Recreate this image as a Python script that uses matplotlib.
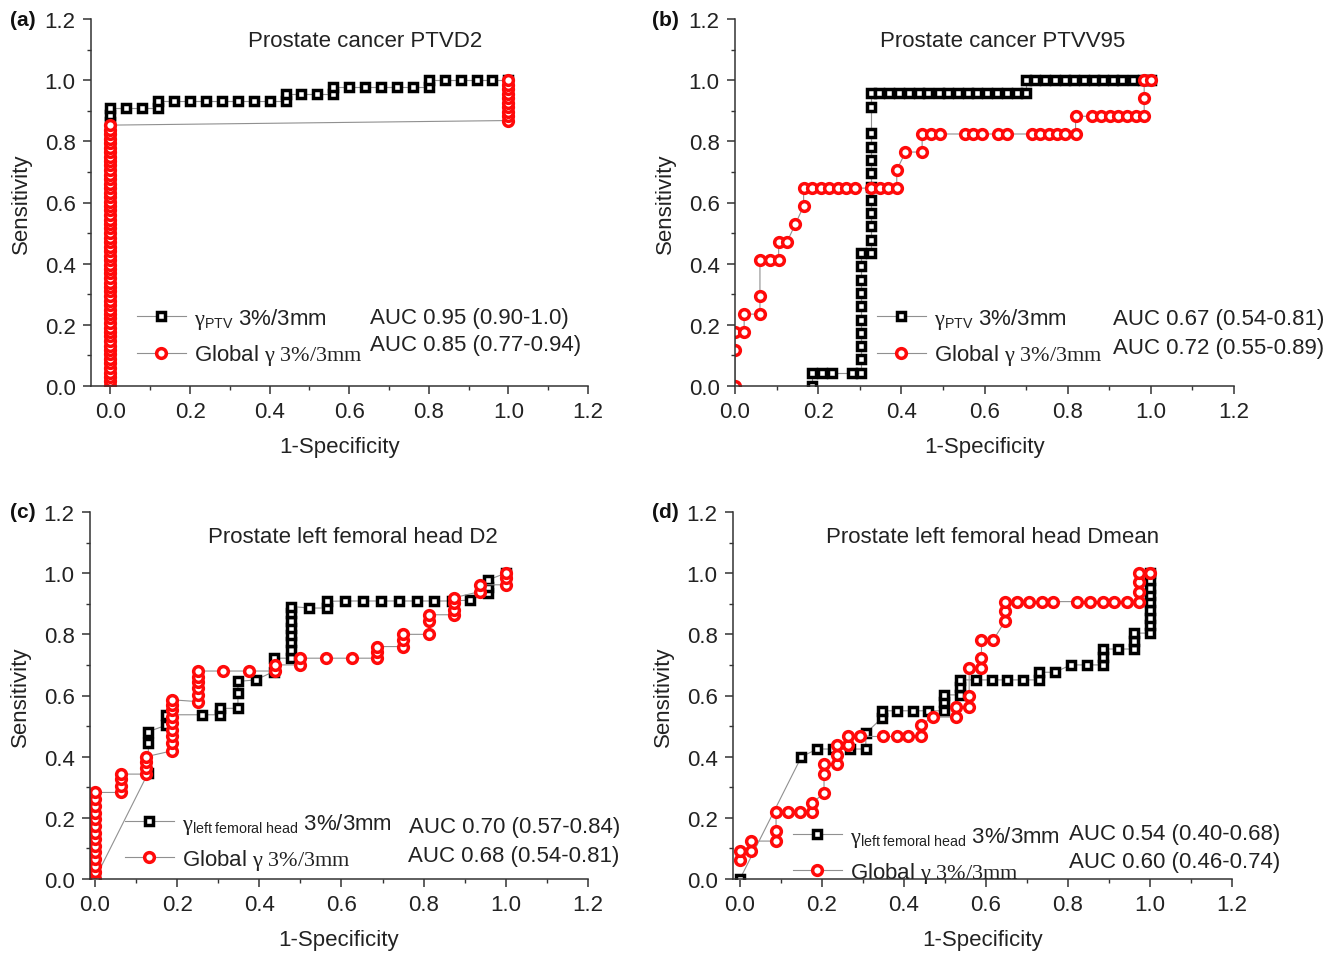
import matplotlib
matplotlib.use("Agg")
import matplotlib.pyplot as plt
from matplotlib.lines import Line2D
from matplotlib.ticker import MultipleLocator, FormatStrFormatter
try:
    import matplotlib._mathtext as _mt
    _mt.SHRINK_FACTOR = 0.64
except Exception:
    pass

plt.rcParams['font.family'] = ['Liberation Sans', 'DejaVu Sans']
plt.rcParams['mathtext.fontset'] = 'custom'
plt.rcParams['mathtext.rm'] = 'Liberation Serif'
plt.rcParams['mathtext.it'] = 'Liberation Serif:italic'
plt.rcParams['mathtext.bf'] = 'Liberation Serif:bold'
plt.rcParams['mathtext.sf'] = 'Liberation Sans'

# ---------------- data ----------------
# (a) Prostate cancer PTVD2
a_gptv_x = [0, 0, 0, 0, 0, 0, 0, 0, 0, 0, 0, 0, 0, 0, 0, 0, 0, 0, 0, 0, 0, 0,
            0.04, 0.08, 0.12, 0.12, 0.16, 0.20, 0.24, 0.28, 0.32, 0.36, 0.40, 0.44, 0.44,
            0.48, 0.52, 0.56, 0.56, 0.60, 0.64, 0.68, 0.72, 0.76, 0.80, 0.80,
            0.84, 0.88, 0.92, 0.96, 1.0]
a_gptv_y = [0.0, 0.045, 0.091, 0.136, 0.182, 0.227, 0.273, 0.318, 0.364, 0.409, 0.455, 0.5,
            0.545, 0.591, 0.636, 0.682, 0.727, 0.773, 0.818, 0.864, 0.886, 0.909,
            0.909, 0.909, 0.909, 0.932, 0.932, 0.932, 0.932, 0.932, 0.932, 0.932, 0.932, 0.932, 0.955,
            0.955, 0.955, 0.955, 0.977, 0.977, 0.977, 0.977, 0.977, 0.977, 0.977, 1.0,
            1.0, 1.0, 1.0, 1.0, 1.0]
a_glob_x = [0] * 59 + [1.0] * 10
a_glob_y = [0.0, 0.015, 0.029, 0.044, 0.059, 0.074, 0.088, 0.103, 0.118, 0.132, 0.147, 0.162,
            0.176, 0.191, 0.206, 0.221, 0.235, 0.25, 0.265, 0.279, 0.294, 0.309, 0.324, 0.338,
            0.353, 0.368, 0.382, 0.397, 0.412, 0.426, 0.441, 0.456, 0.471, 0.485, 0.5, 0.515,
            0.529, 0.544, 0.559, 0.574, 0.588, 0.603, 0.618, 0.632, 0.647, 0.662, 0.676, 0.691,
            0.706, 0.721, 0.735, 0.75, 0.765, 0.779, 0.794, 0.809, 0.824, 0.838, 0.853,
            0.868, 0.882, 0.897, 0.912, 0.926, 0.941, 0.956, 0.971, 0.985, 1.0]

# (b) Prostate cancer PTVV95
b_gptv_x = [0.185, 0.185, 0.209, 0.234, 0.282,
            0.302, 0.302, 0.302, 0.302, 0.302, 0.302, 0.302, 0.302, 0.302, 0.302,
            0.328, 0.328, 0.328, 0.328, 0.328, 0.328, 0.328, 0.328, 0.328, 0.328, 0.328, 0.328,
            0.347, 0.371, 0.395, 0.419, 0.442, 0.465, 0.49, 0.512, 0.536, 0.56, 0.583, 0.607,
            0.631, 0.653, 0.677, 0.699, 0.699,
            0.722, 0.746, 0.77, 0.793, 0.816, 0.839, 0.863, 0.885, 0.91, 0.931, 0.956, 0.981, 1.0]
b_gptv_y = [0.0, 0.043, 0.043, 0.043, 0.043,
            0.043, 0.087, 0.130, 0.174, 0.217, 0.261, 0.304, 0.348, 0.391, 0.435,
            0.435, 0.478, 0.522, 0.565, 0.609, 0.652, 0.696, 0.739, 0.783, 0.826, 0.913, 0.957,
            0.957, 0.957, 0.957, 0.957, 0.957, 0.957, 0.957, 0.957, 0.957, 0.957, 0.957, 0.957,
            0.957, 0.957, 0.957, 0.957, 1.0,
            1.0, 1.0, 1.0, 1.0, 1.0, 1.0, 1.0, 1.0, 1.0, 1.0, 1.0, 1.0, 1.0]
b_glob_x = [0.0, 0.0, 0.0, 0.022, 0.022, 0.06, 0.06, 0.06, 0.083, 0.105, 0.105, 0.125, 0.145,
            0.165, 0.165, 0.185, 0.206, 0.226, 0.248, 0.268, 0.289, 0.328, 0.349, 0.369, 0.389,
            0.389, 0.41, 0.45, 0.45, 0.472, 0.492, 0.552, 0.573, 0.593, 0.633, 0.653, 0.714,
            0.734, 0.754, 0.774, 0.794, 0.819, 0.819, 0.859, 0.881, 0.902, 0.922, 0.942, 0.964,
            0.984, 0.984, 0.984, 1.0]
b_glob_y = [0.0, 0.118, 0.176, 0.176, 0.235, 0.235, 0.294, 0.412, 0.412, 0.412, 0.471, 0.471, 0.529,
            0.588, 0.647, 0.647, 0.647, 0.647, 0.647, 0.647, 0.647, 0.647, 0.647, 0.647, 0.647,
            0.706, 0.765, 0.765, 0.824, 0.824, 0.824, 0.824, 0.824, 0.824, 0.824, 0.824, 0.824,
            0.824, 0.824, 0.824, 0.824, 0.824, 0.882, 0.882, 0.882, 0.882, 0.882, 0.882, 0.882,
            0.882, 0.941, 1.0, 1.0]

# (c) Prostate left femoral head D2
c_gptv_x = [0.0, 0.13, 0.13, 0.13, 0.174, 0.174, 0.261, 0.304, 0.304, 0.348, 0.348, 0.348,
            0.391, 0.435, 0.435, 0.478, 0.478, 0.478, 0.478, 0.478, 0.478, 0.478, 0.478,
            0.522, 0.565, 0.565, 0.609, 0.652, 0.696, 0.739, 0.783, 0.826, 0.87, 0.913,
            0.957, 0.957, 0.957, 1.0]
c_gptv_y = [0.0, 0.348, 0.444, 0.482, 0.503, 0.537, 0.537, 0.537, 0.558, 0.558, 0.607, 0.646,
            0.651, 0.678, 0.722, 0.722, 0.749, 0.776, 0.798, 0.82, 0.842, 0.869, 0.891,
            0.886, 0.886, 0.908, 0.909, 0.909, 0.909, 0.909, 0.909, 0.909, 0.909, 0.912,
            0.935, 0.956, 0.978, 1.0]
c_glob_x = [0.0] * 14 + [0.0625] * 4 + [0.125] * 4 + [0.1875] * 9 + [0.25] * 6 + \
           [0.3125, 0.375, 0.4375, 0.4375, 0.5, 0.5, 0.5625, 0.625, 0.6875, 0.6875, 0.6875,
            0.75, 0.75, 0.75, 0.8125, 0.8125, 0.8125, 0.875, 0.875, 0.875, 0.875,
            0.9375, 0.9375, 1.0, 1.0, 1.0]
c_glob_y = [0.0, 0.022, 0.043, 0.065, 0.087, 0.109, 0.13, 0.152, 0.174, 0.196, 0.217, 0.239,
            0.261, 0.283,
            0.283, 0.304, 0.326, 0.343,
            0.343, 0.362, 0.381, 0.40,
            0.419, 0.444, 0.466, 0.487, 0.509, 0.531, 0.553, 0.569, 0.586,
            0.58, 0.602, 0.624, 0.643, 0.662, 0.68,
            0.68, 0.68, 0.68, 0.70, 0.70, 0.722, 0.722, 0.722, 0.722, 0.742, 0.76,
            0.76, 0.782, 0.80, 0.80, 0.842, 0.864, 0.864, 0.88, 0.902, 0.92,
            0.94, 0.962, 0.962, 0.984, 1.0]

# (d) Prostate left femoral head Dmean
d_gptv_x = [0.0, 0.15, 0.189, 0.228, 0.268, 0.307, 0.307, 0.346, 0.346, 0.382, 0.421, 0.459,
            0.498, 0.498, 0.498, 0.537, 0.537, 0.537, 0.576, 0.614, 0.652, 0.691, 0.73, 0.73,
            0.768, 0.807, 0.846, 0.885, 0.885, 0.885, 0.923, 0.962, 0.962, 0.962,
            1.0, 1.0, 1.0, 1.0, 1.0, 1.0, 1.0, 1.0, 1.0]
d_gptv_y = [0.0, 0.40, 0.425, 0.425, 0.425, 0.425, 0.477, 0.526, 0.55, 0.55, 0.55, 0.55,
            0.55, 0.578, 0.602, 0.602, 0.629, 0.651, 0.651, 0.651, 0.651, 0.651, 0.651, 0.676,
            0.676, 0.70, 0.70, 0.70, 0.727, 0.752, 0.752, 0.752, 0.778, 0.804,
            0.804, 0.831, 0.855, 0.88, 0.905, 0.929, 0.953, 0.978, 1.0]
d_glob_x = [0.0, 0.0, 0.028, 0.028, 0.088, 0.088, 0.088, 0.118, 0.146, 0.175, 0.175, 0.205,
            0.205, 0.205, 0.236, 0.236, 0.236, 0.264, 0.264, 0.293, 0.35, 0.382, 0.411, 0.441,
            0.441, 0.47, 0.528, 0.528, 0.559, 0.559, 0.559, 0.589, 0.589, 0.589, 0.618,
            0.646, 0.646, 0.646, 0.675, 0.706, 0.736, 0.764, 0.823, 0.854, 0.885, 0.913, 0.943,
            0.972, 0.972, 0.972, 0.972, 1.0]
d_glob_y = [0.062, 0.092, 0.092, 0.124, 0.124, 0.157, 0.218, 0.218, 0.218, 0.218, 0.248, 0.28,
            0.342, 0.375, 0.375, 0.406, 0.438, 0.438, 0.466, 0.466, 0.466, 0.466, 0.466, 0.466,
            0.502, 0.531, 0.531, 0.564, 0.564, 0.597, 0.689, 0.689, 0.722, 0.782, 0.782,
            0.842, 0.875, 0.907, 0.907, 0.907, 0.907, 0.907, 0.907, 0.907, 0.907, 0.907, 0.907,
            0.907, 0.94, 0.971, 1.0, 1.0]

titles = ["Prostate cancer PTVD2", "Prostate cancer PTVV95",
          "Prostate left femoral head D2", "Prostate left femoral head Dmean"]
panel_labels = ["(a)", "(b)", "(c)", "(d)"]
leg_ptv = r"$\mathrm{\gamma}_{\mathsf{PTV}}$ 3%/3mm"
leg_fem = r"$\mathrm{\gamma}_{\mathsf{left\ femoral\ head}}$ 3%/3mm"
leg_glob = r"Global $\mathrm{\gamma\ 3\%/3mm}$"
auc_texts = [("AUC 0.95 (0.90-1.0)", "AUC 0.85 (0.77-0.94)"),
             ("AUC 0.67 (0.54-0.81)", "AUC 0.72 (0.55-0.89)"),
             ("AUC 0.70 (0.57-0.84)", "AUC 0.68 (0.54-0.81)"),
             ("AUC 0.54 (0.40-0.68)", "AUC 0.60 (0.46-0.74)")]
xlabel = "1-Specificity"
ylabel = "Sensitivity"

# ---------------- layout ----------------
W, H = 1344, 954
fig = plt.figure(figsize=(W / 100, H / 100), dpi=100)

def rect(left, right, top, bottom):
    return [left / W, 1 - bottom / H, (right - left) / W, (bottom - top) / H]

ax_rects = [rect(91, 588, 20, 387), rect(735, 1234, 20, 387),
            rect(90, 588, 513, 880), rect(733, 1232, 513, 880)]
xmins = [-0.049, 0.0, -0.012, -0.017]
title_pos = [(0.551, 0.942), (0.537, 0.942), (0.528, 0.932), (0.521, 0.932)]
legend_anchor = [(0.0926, 0.134), (0.2846, 0.134), (0.0703, 0.102), (0.120, 0.067)]
legend_labels = [(leg_ptv, leg_glob), (leg_ptv, leg_glob), (leg_fem, leg_glob), (leg_fem, leg_glob)]
auc_pos = [((0.561, 0.188), (0.561, 0.112), 'left'),
           ((0.7575, 0.183), (0.7575, 0.106), 'left'),
           ((1.064, 0.142), (1.064, 0.063), 'right'),
           ((1.096, 0.125), (1.096, 0.049), 'right')]
label_pos = [(10, 20), (652, 20), (10, 513), (652, 513)]

data = [(a_gptv_x, a_gptv_y, a_glob_x, a_glob_y),
        (b_gptv_x, b_gptv_y, b_glob_x, b_glob_y),
        (c_gptv_x, c_gptv_y, c_glob_x, c_glob_y),
        (d_gptv_x, d_gptv_y, d_glob_x, d_glob_y)]

LINE_C = '#909090'
RED = '#ff0a0a'
SQ = dict(marker='s', ms=5.8, mew=2.5, mec='black', mfc='white')
CI = dict(marker='o', ms=7.0, mew=2.5, mec=RED, mfc='white')

for i in range(4):
    ax = fig.add_axes(ax_rects[i])
    gx, gy, rx, ry = data[i]
    ax.plot(gx, gy, color=LINE_C, lw=0.8, **SQ)
    ax.plot(rx, ry, color=LINE_C, lw=0.8, **CI)
    ax.set_xlim(xmins[i], 1.2)
    ax.set_ylim(0, 1.2)
    ax.xaxis.set_major_locator(MultipleLocator(0.2))
    ax.xaxis.set_minor_locator(MultipleLocator(0.1))
    ax.yaxis.set_major_locator(MultipleLocator(0.2))
    ax.yaxis.set_minor_locator(MultipleLocator(0.1))
    ax.xaxis.set_major_formatter(FormatStrFormatter('%.1f'))
    ax.yaxis.set_major_formatter(FormatStrFormatter('%.1f'))
    for s in ['top', 'right']:
        ax.spines[s].set_visible(False)
    for s in ['left', 'bottom']:
        ax.spines[s].set_linewidth(1.1)
        ax.spines[s].set_color('#333333')
    ax.tick_params(which='major', direction='out', length=6, width=1.1, labelsize=16,
                   pad=5, color='#333333', labelcolor='#222222')
    ax.tick_params(which='minor', direction='out', length=3, width=1.0, color='#333333')
    ax.set_xlabel(xlabel, fontsize=16, labelpad=10, color='#222222')
    ax.set_ylabel(ylabel, fontsize=16, labelpad=9, color='#222222')
    ax.text(title_pos[i][0], title_pos[i][1], titles[i], transform=ax.transAxes,
            ha='center', va='center', fontsize=16, color='#222222')

    h1 = Line2D([], [], color=LINE_C, lw=0.8, **SQ)
    h2 = Line2D([], [], color=LINE_C, lw=0.8, **CI)
    ax.legend([h1, h2], list(legend_labels[i]), loc='center left',
              bbox_to_anchor=legend_anchor[i], frameon=False, fontsize=16,
              handlelength=2.2, handletextpad=0.35, labelspacing=0.5,
              borderpad=0, borderaxespad=0, labelcolor='#222222')

    p1, p2, ha = auc_pos[i]
    ax.text(p1[0], p1[1], auc_texts[i][0], transform=ax.transAxes, ha=ha, va='center',
            fontsize=16, color='#222222')
    ax.text(p2[0], p2[1], auc_texts[i][1], transform=ax.transAxes, ha=ha, va='center',
            fontsize=16, color='#222222')

    fig.text(label_pos[i][0] / W, 1 - label_pos[i][1] / H, panel_labels[i],
             fontsize=15, fontweight='bold', ha='left', va='center', color='#111111')

fig.savefig("out.png", dpi=100)
